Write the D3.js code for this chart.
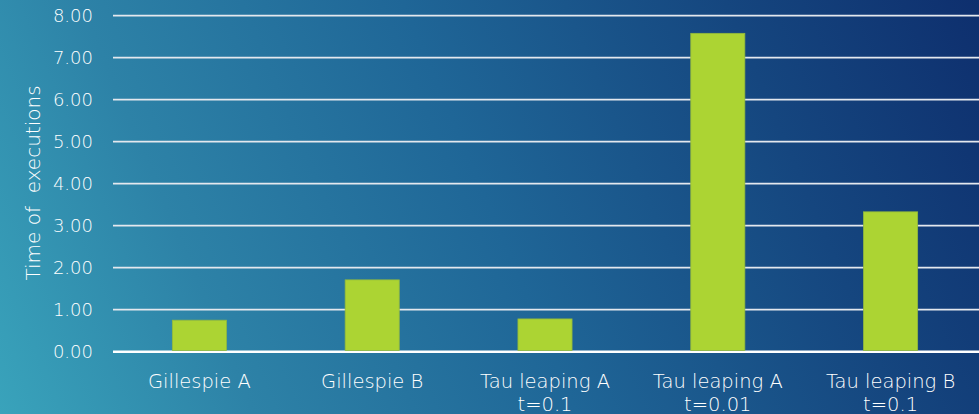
<!DOCTYPE html>
<html>
<head>
<meta charset="utf-8">
<script src="https://cdn.jsdelivr.net/npm/d3@7"></script>
<style>
  html, body { margin: 0; padding: 0; background: #1f6697; }
  svg { display: block; }
  text { font-family: "DejaVu Sans", sans-serif; font-weight: 200; fill: #ffffff; }
</style>
</head>
<body>
<svg id="chart" width="979" height="414"></svg>
<script>
// Execution time per simulation method
const categories = [
  "Gillespie A",
  "Gillespie B",
  "Tau leaping A|t=0.1",
  "Tau leaping A|t=0.01",
  "Tau leaping B|t=0.1"
];
const executionTimes = [0.75, 1.71, 0.78, 7.58, 3.33];
const yTicks = [0, 1, 2, 3, 4, 5, 6, 7, 8];
const yTitle = "Time of\u00a0 executions";

const width = 979, height = 414;
const svg = d3.select("#chart");

// Diagonal teal-to-navy backdrop
const defs = svg.append("defs");
const grad = defs.append("linearGradient")
  .attr("id", "bg")
  .attr("gradientUnits", "userSpaceOnUse")
  .attr("x1", 0).attr("y1", height)
  .attr("x2", width).attr("y2", 0);
[[0, "#39a3bb"], [0.22, "#2d82a7"], [0.5, "#1f6697"], [0.78, "#15467f"], [1, "#0e2f6e"]]
  .forEach(([o, c]) => grad.append("stop").attr("offset", o).attr("stop-color", c));
svg.append("rect").attr("width", width).attr("height", height).attr("fill", "url(#bg)");

const x = d3.scaleBand()
  .domain(categories)
  .range([113, 977])
  .paddingInner(0.687)
  .paddingOuter(0.3435);

const y = d3.scaleLinear()
  .domain([0, 8])
  .range([351.7, 15.7]);

// Horizontal gridlines (baseline drawn heavier)
svg.append("g")
  .selectAll("line")
  .data(yTicks)
  .join("line")
  .attr("x1", 113)
  .attr("x2", width)
  .attr("y1", d => y(d))
  .attr("y2", d => y(d))
  .attr("stroke", d => d === 0 ? "#ffffff" : "#e4e8ee")
  .attr("stroke-width", d => d === 0 ? 2.6 : 1.8);

// Y tick labels
svg.append("g")
  .selectAll("text")
  .data(yTicks)
  .join("text")
  .attr("x", 93)
  .attr("y", d => y(d))
  .attr("dy", "0.36em")
  .attr("text-anchor", "end")
  .attr("font-size", 18)
  .text(d => d3.format(".2f")(d));

// Y axis title
svg.append("text")
  .attr("transform", "translate(40,183) rotate(-90)")
  .attr("text-anchor", "middle")
  .attr("font-size", 20)
  .text(yTitle);

// Bars
svg.append("g")
  .selectAll("rect")
  .data(categories.map((c, i) => ({ c, v: executionTimes[i] })))
  .join("rect")
  .attr("x", d => x(d.c))
  .attr("width", x.bandwidth())
  .attr("y", d => y(d.v))
  .attr("height", d => y(0) - y(d.v) - 1.3)
  .attr("fill", "#acd433")
  .attr("stroke", "#93b93c")
  .attr("stroke-width", 0.8);

// Category labels, one or two lines each
const labels = svg.append("g")
  .selectAll("text")
  .data(categories)
  .join("text")
  .attr("x", d => x(d) + x.bandwidth() / 2)
  .attr("y", 388)
  .attr("text-anchor", "middle")
  .attr("font-size", 19.5);
labels.selectAll("tspan")
  .data(d => d.split("|"))
  .join("tspan")
  .attr("x", function () { return d3.select(this.parentNode).attr("x"); })
  .attr("dy", (d, i) => i === 0 ? 0 : 22.5)
  .text(d => d);
</script>
</body>
</html>
